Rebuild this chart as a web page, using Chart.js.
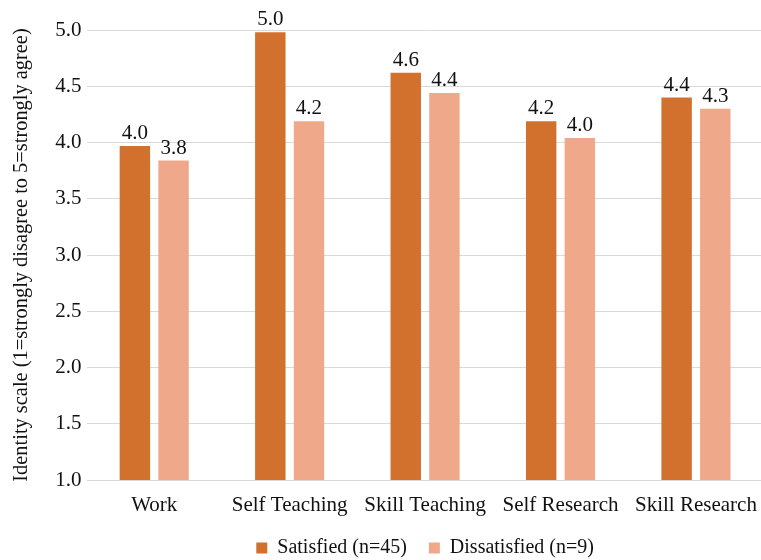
<!DOCTYPE html>
<html>
<head>
<meta charset="utf-8">
<script src="https://cdn.jsdelivr.net/npm/chart.js@4/dist/chart.umd.min.js"></script>
<style>
  html, body { margin: 0; padding: 0; overflow: hidden; background: #fff; }
  #wrap { width: 770px; height: 560px; }
</style>
</head>
<body>
<div id="wrap"><canvas id="c" width="770" height="560"></canvas></div>
<script>
const categories = ['Work', 'Self Teaching', 'Skill Teaching', 'Self Research', 'Skill Research'];
const satisfied = [3.97, 4.98, 4.62, 4.19, 4.40];
const dissatisfied = [3.84, 4.19, 4.44, 4.04, 4.30];
const seriesLabels = ['Satisfied (n=45)', 'Dissatisfied (n=9)'];
const yTicks = { min: 1, max: 5, step: 0.5 };
const yTitle = 'Identity scale (1=strongly disagree to 5=strongly agree)';

const FONT = "'Liberation Serif', 'Times New Roman', serif";
const TEXT = '#111';
const FS = 21;

const valueLabels = {
  id: 'valueLabels',
  afterDatasetsDraw(chart) {
    const ctx = chart.ctx;
    ctx.save();
    ctx.font = FS + 'px ' + FONT;
    ctx.fillStyle = TEXT;
    ctx.textAlign = 'center';
    ctx.textBaseline = 'alphabetic';
    chart.data.datasets.forEach((ds, i) => {
      const meta = chart.getDatasetMeta(i);
      meta.data.forEach((bar, j) => {
        ctx.fillText(Number(ds.data[j]).toFixed(1), bar.x, bar.y - 7);
      });
    });
    ctx.restore();
  }
};

new Chart(document.getElementById('c'), {
  type: 'bar',
  data: {
    labels: categories,
    datasets: [
      { label: seriesLabels[0], data: satisfied, backgroundColor: '#D2702D', categoryPercentage: 0.571, barPercentage: 0.787 },
      { label: seriesLabels[1], data: dissatisfied, backgroundColor: '#F0A88B', categoryPercentage: 0.571, barPercentage: 0.787 }
    ]
  },
  options: {
    responsive: false,
    animation: false,
    devicePixelRatio: 1,
    layout: { padding: { top: 30, right: 1, bottom: -8, left: 0 } },
    plugins: {
      tooltip: { enabled: false },
      legend: {
        position: 'bottom',
        fullSize: false,
        labels: {
          boxWidth: 11,
          boxHeight: 11,
          padding: 22,
          color: TEXT,
          font: { family: FONT, size: 20 }
        }
      }
    },
    scales: {
      x: {
        grid: { display: false, drawTicks: false },
        border: { display: false },
        ticks: { color: TEXT, padding: 13, font: { family: FONT, size: FS }, maxRotation: 0, autoSkip: false },
        afterFit(s) { s.height = 36; }
      },
      y: {
        min: yTicks.min,
        max: yTicks.max,
        grid: { color: '#D9D9D9', drawTicks: false, lineWidth: 1 },
        border: { display: false },
        ticks: {
          stepSize: yTicks.step,
          padding: 5,
          color: TEXT,
          font: { family: FONT, size: FS },
          callback: (v) => Number(v).toFixed(1)
        },
        title: {
          display: true,
          text: yTitle,
          color: TEXT,
          font: { family: FONT, size: 20.4 },
          padding: { top: 9.8, bottom: 0 }
        },
        afterFit(s) { s.width = 86.5; }
      }
    }
  },
  plugins: [valueLabels]
});
</script>
</body>
</html>
